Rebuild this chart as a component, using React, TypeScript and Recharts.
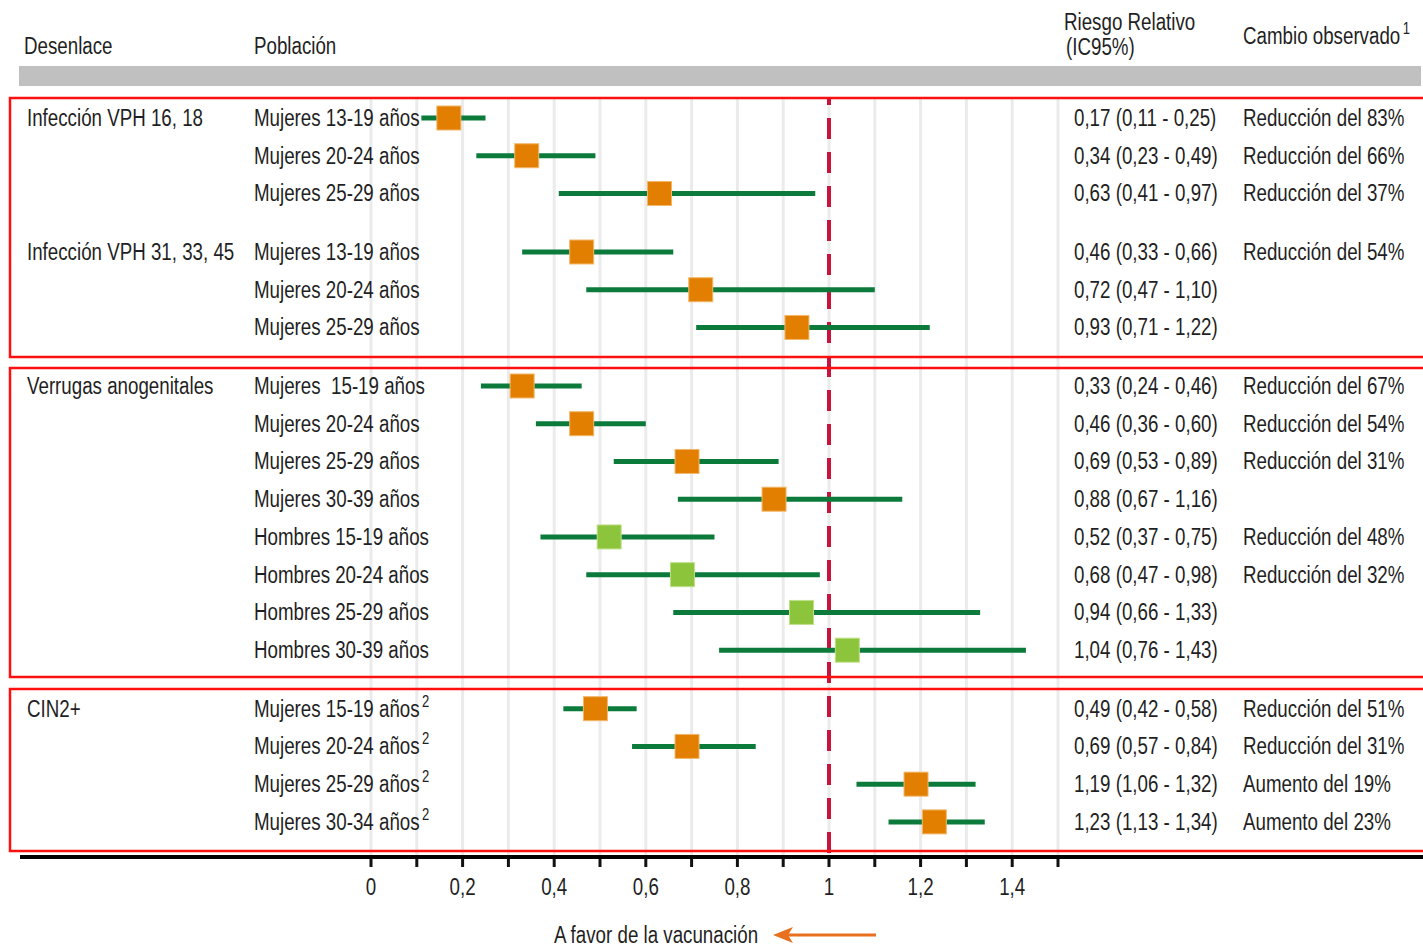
import React from 'react';
import { ScatterChart, Scatter, XAxis, YAxis, CartesianGrid, ReferenceLine, ErrorBar } from 'recharts';

const FONT = "'Liberation Sans', Arial, sans-serif";
const TEXT = '#1f1f24';
const FS = 23;
const SX = 0.815;

const outcomes = ['Infección VPH 16, 18', 'Infección VPH 31, 33, 45', 'Verrugas anogenitales', 'CIN2+'];
const outcomeOfRow = [0, 0, 0, 1, 1, 1, 2, 2, 2, 2, 2, 2, 2, 2, 3, 3, 3, 3];
const populations = [
  'Mujeres 13-19 años', 'Mujeres 20-24 años', 'Mujeres 25-29 años',
  'Mujeres 13-19 años', 'Mujeres 20-24 años', 'Mujeres 25-29 años',
  'Mujeres  15-19 años', 'Mujeres 20-24 años', 'Mujeres 25-29 años', 'Mujeres 30-39 años',
  'Hombres 15-19 años', 'Hombres 20-24 años', 'Hombres 25-29 años', 'Hombres 30-39 años',
  'Mujeres 15-19 años', 'Mujeres 20-24 años', 'Mujeres 25-29 años', 'Mujeres 30-34 años',
];
const footnoteRow = [false, false, false, false, false, false, false, false, false, false, false, false, false, false, true, true, true, true];
const sexes = ['M', 'M', 'M', 'M', 'M', 'M', 'M', 'M', 'M', 'M', 'H', 'H', 'H', 'H', 'M', 'M', 'M', 'M'];
const rr = [0.17, 0.34, 0.63, 0.46, 0.72, 0.93, 0.33, 0.46, 0.69, 0.88, 0.52, 0.68, 0.94, 1.04, 0.49, 0.69, 1.19, 1.23];
const ciLow = [0.11, 0.23, 0.41, 0.33, 0.47, 0.71, 0.24, 0.36, 0.53, 0.67, 0.37, 0.47, 0.66, 0.76, 0.42, 0.57, 1.06, 1.13];
const ciHigh = [0.25, 0.49, 0.97, 0.66, 1.10, 1.22, 0.46, 0.60, 0.89, 1.16, 0.75, 0.98, 1.33, 1.43, 0.58, 0.84, 1.32, 1.34];
const rrLabels = [
  '0,17 (0,11 - 0,25)', '0,34 (0,23 - 0,49)', '0,63 (0,41 - 0,97)',
  '0,46 (0,33 - 0,66)', '0,72 (0,47 - 1,10)', '0,93 (0,71 - 1,22)',
  '0,33 (0,24 - 0,46)', '0,46 (0,36 - 0,60)', '0,69 (0,53 - 0,89)', '0,88 (0,67 - 1,16)',
  '0,52 (0,37 - 0,75)', '0,68 (0,47 - 0,98)', '0,94 (0,66 - 1,33)', '1,04 (0,76 - 1,43)',
  '0,49 (0,42 - 0,58)', '0,69 (0,57 - 0,84)', '1,19 (1,06 - 1,32)', '1,23 (1,13 - 1,34)',
];
const changes = [
  'Reducción del 83%', 'Reducción del 66%', 'Reducción del 37%',
  'Reducción del 54%', '', '',
  'Reducción del 67%', 'Reducción del 54%', 'Reducción del 31%', '',
  'Reducción del 48%', 'Reducción del 32%', '', '',
  'Reducción del 51%', 'Reducción del 31%', 'Aumento del 19%', 'Aumento del 23%',
];
const xTicks = [0, 0.1, 0.2, 0.3, 0.4, 0.5, 0.6, 0.7, 0.8, 0.9, 1, 1.1, 1.2, 1.3, 1.4, 1.5];
const xTickLabels = ['0', '', '0,2', '', '0,4', '', '0,6', '', '0,8', '', '1', '', '1,2', '', '1,4', ''];

const GROUP_GAP = 0.55;

const rows = populations.map((p, i) => ({
  pos: i + outcomeOfRow[i] * GROUP_GAP,
  population: p,
  note: footnoteRow[i],
  sex: sexes[i],
  rr: rr[i],
  err: [rr[i] - ciLow[i], ciHigh[i] - rr[i]],
  rrLabel: rrLabels[i],
  change: changes[i],
  outcome: outcomeOfRow[i],
  first: i === 0 || outcomeOfRow[i - 1] !== outcomeOfRow[i],
}));
const rowPositions = rows.map((r) => r.pos);

const CText = ({ x, y, anchor = 'start', sup, children }: any) => (
  <text
    transform={`translate(${x},${y}) scale(${SX},1)`}
    x={0}
    y={0}
    textAnchor={anchor}
    fontFamily={FONT}
    fontSize={FS}
    fill={TEXT}
    style={{ whiteSpace: 'pre' }}
  >
    {children}
    {sup && (
      <tspan fontSize={16} dy={-10} dx={3}>
        {sup}
      </tspan>
    )}
  </text>
);

const RowTick = (props: any) => {
  const { y, payload } = props;
  const r = rows.find((row) => Math.abs(row.pos - payload.value) < 1e-6);
  if (!r) return null;
  const by = y + 8;
  return (
    <g>
      {r.first && <CText x={27} y={by}>{outcomes[r.outcome]}</CText>}
      <CText x={254} y={by} sup={r.note ? '2' : undefined}>{r.population}</CText>
      <CText x={1074} y={by}>{r.rrLabel}</CText>
      {r.change && <CText x={1243} y={by}>{r.change}</CText>}
    </g>
  );
};

const XTick = (props: any) => {
  const { x, y, payload } = props;
  const i = xTicks.findIndex((t) => Math.abs(t - payload.value) < 1e-9);
  const label = i >= 0 ? xTickLabels[i] : '';
  if (!label) return null;
  return <CText x={x} y={y + 23} anchor="middle">{label}</CText>;
};

const Square = (props: any) => {
  const { cx, cy, payload } = props;
  const s = 24;
  const fill = payload.sex === 'H' ? '#8cc43c' : '#e27f00';
  return (
    <rect
      x={cx - s / 2}
      y={cy - s / 2}
      width={s}
      height={s}
      fill={fill}
      stroke={payload.sex === 'H' ? '#bfe08a' : '#f2b76a'}
      strokeWidth={1}
    />
  );
};

export default function App() {
  return (
    <div style={{ position: 'absolute', left: 0, top: 0, width: 1423, height: 946, background: '#fff' }}>
      <ScatterChart width={1423} height={946} margin={{ top: 98, right: 365, bottom: 49, left: 370 }}>
        <CartesianGrid horizontal={false} stroke="#ebebeb" strokeWidth={3} />
        <XAxis
          type="number"
          dataKey="rr"
          domain={[0, 1.5]}
          ticks={xTicks}
          interval={0}
          allowDataOverflow
          axisLine={false}
          tickLine={{ stroke: '#111', strokeWidth: 3 }}
          tickSize={10}
          tickMargin={5}
          height={40}
          tick={<XTick />}
        />
        <YAxis
          type="number"
          dataKey="pos"
          domain={[-0.53, 19.58]}
          reversed
          ticks={rowPositions}
          interval={0}
          allowDataOverflow
          axisLine={false}
          tickLine={false}
          width={1}
          tick={<RowTick />}
        />
        <ReferenceLine x={1} stroke="#c8143c" strokeWidth={4} strokeDasharray="21 13" strokeDashoffset={-4} />
        <Scatter data={rows} shape={<Square />} isAnimationActive={false}>
          <ErrorBar dataKey="err" direction="x" width={0} strokeWidth={5} stroke="#0b7a3b" />
        </Scatter>
      </ScatterChart>
      <svg width={1423} height={946} style={{ position: 'absolute', left: 0, top: 0, pointerEvents: 'none' }}>
        <CText x={24} y={54}>Desenlace</CText>
        <CText x={254} y={54}>Población</CText>
        <CText x={1064} y={30}>Riesgo Relativo</CText>
        <CText x={1066} y={55}>(IC95%)</CText>
        <CText x={1243} y={44} sup="1">Cambio observado</CText>
        <rect x={19} y={66} width={1402} height={20} fill="#c0c0c0" />
        <rect x={10} y={98} width={1420} height={259} fill="none" stroke="#ff1010" strokeWidth={2.5} />
        <rect x={10} y={368} width={1420} height={309} fill="none" stroke="#ff1010" strokeWidth={2.5} />
        <rect x={10} y={689} width={1420} height={162} fill="none" stroke="#ff1010" strokeWidth={2.5} />
        <line x1={20} x2={1423} y1={857} y2={857} stroke="#000" strokeWidth={4} />
        <CText x={656} y={943} anchor="middle">A favor de la vacunación</CText>
        <line x1={876} x2={785} y1={935} y2={935} stroke="#e8701e" strokeWidth={3} />
        <polygon points="773,935 793,927 788,935 793,943" fill="#e8701e" />
      </svg>
    </div>
  );
}
